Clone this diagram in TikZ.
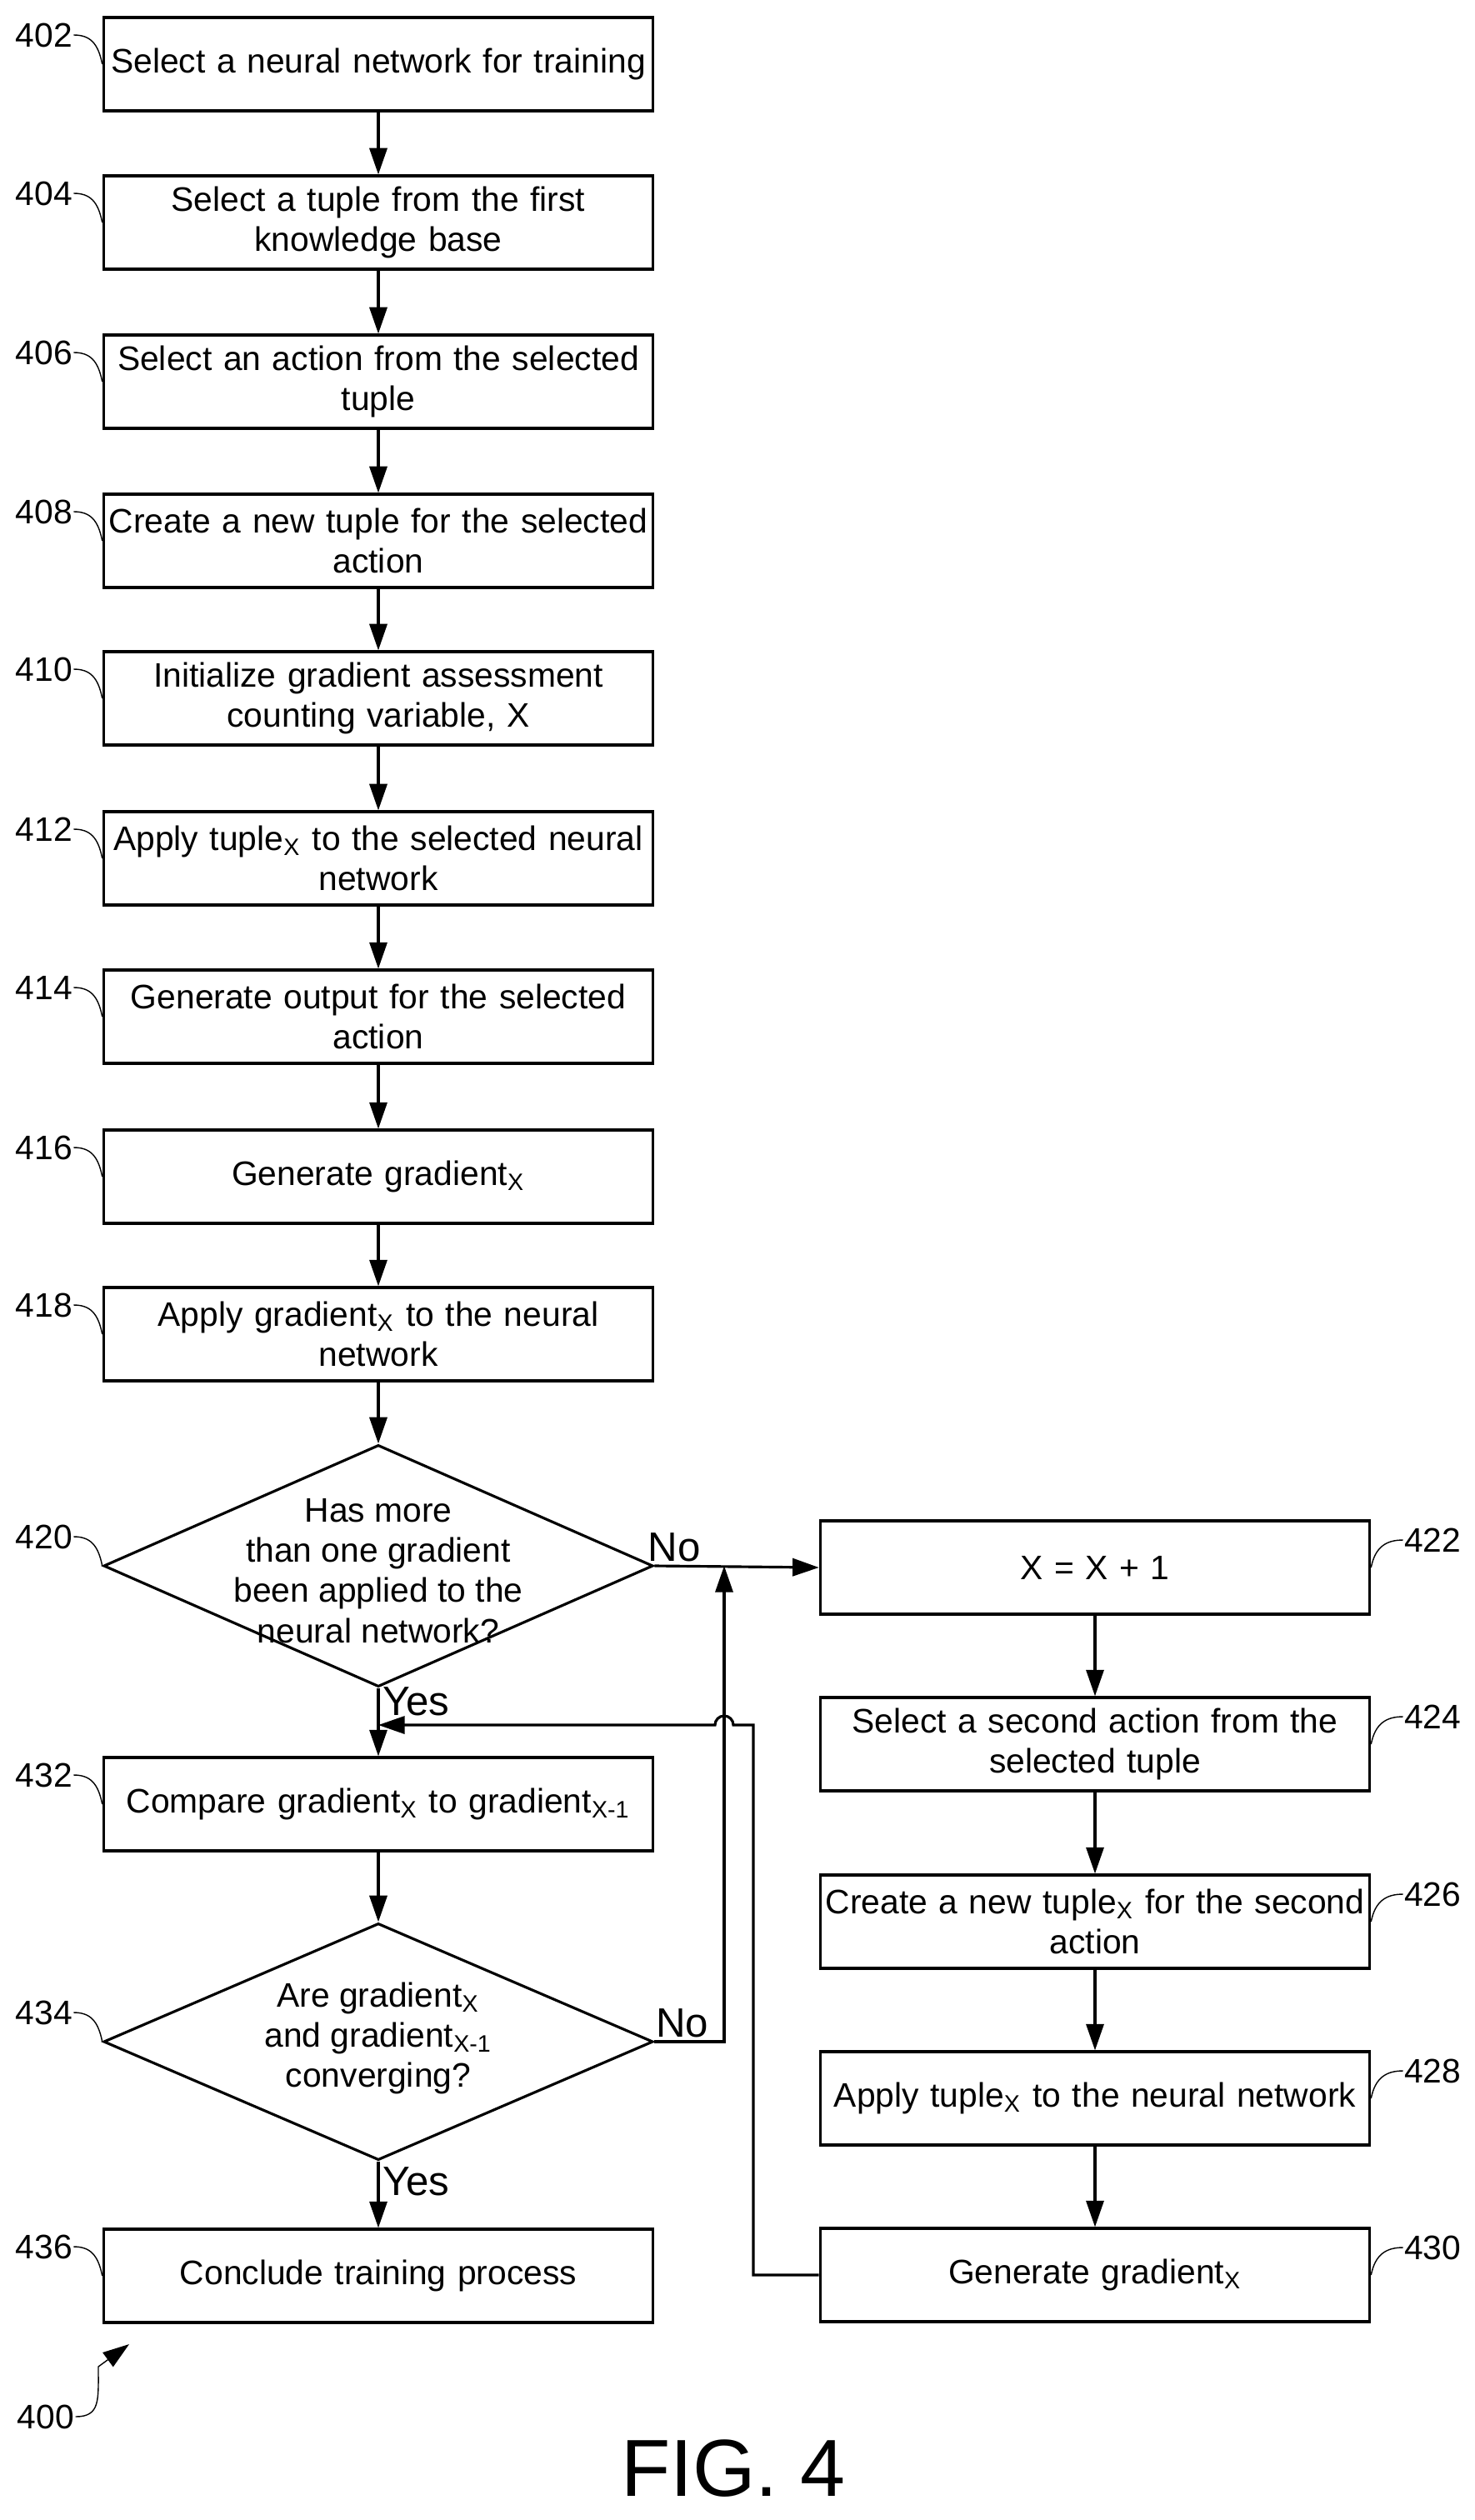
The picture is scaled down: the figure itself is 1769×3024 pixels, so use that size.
\documentclass[tikz,border=0pt]{standalone}
\usepackage{fontspec}
\setmainfont{Liberation Sans}
\usetikzlibrary{shapes.geometric, arrows.meta, calc}

\newcommand{\refleft}[2]{%
	\node[reftext] (l#1) at ($(#1.west)+(-70,-35)$) {#2};
	\draw[thin] (l#1.east) .. controls +(20,0) and +(-5,-25) .. (#1.west);
}
\newcommand{\refright}[2]{%
	\node[reftext] (l#1) at ($(#1.east)+(74,-33)$) {#2};
	\draw[thin] (#1.east) .. controls +(5,-25) and +(-20,0) .. (l#1.west);
}

\begin{document}
\begin{tikzpicture}[%
		x=0.01cm, y=-0.01cm,
		line width=0.9pt,
		font=\fontsize{11.6}{13.7}\selectfont,
		process/.style={
			rectangle,
			draw,
			minimum width=6.59cm,
			minimum height=1.12cm,
			text width=6.55cm,
			inner sep=0pt,
			align=center,
			execute at begin node={\hyphenpenalty=10000}
		},
		decision/.style={
			diamond,
			draw,
			inner sep=0pt,
			minimum width=6.59cm,
			minimum height=2.9cm
		},
		dtext/.style={
			align=center,
			inner sep=0pt
		},
		reftext/.style={
			inner sep=0pt
		},
		flow/.style={
			-{Triangle[length=9pt, width=6pt]}
		},
		branch/.style={
			font=\fontsize{14}{16}\selectfont,
			inner sep=1pt
		}]

		\useasboundingbox (0,0) rectangle (1769,3024);

		% LEFT COLUMN

		\node (s402) [process] at (454,77) {Select a neural network for training};
		\node (s404) [process] at (454,267) {Select a tuple from the first\\knowledge base};
		\node (s406) [process] at (454,458) {Select an action from the selected\\tuple};
		\node (s408) [process] at (454,649) {Create a new tuple for the selected\\action};
		\node (s410) [process] at (454,838) {Initialize gradient assessment\\counting variable, X};
		\node (s412) [process] at (454,1030) {Apply tuple\textsubscript{X} to the selected neural\\network};
		\node (s414) [process] at (454,1220) {Generate output for the selected\\action};
		\node (s416) [process] at (454,1412) {Generate gradient\textsubscript{X}};
		\node (s418) [process] at (454,1601) {Apply gradient\textsubscript{X} to the neural\\network};
		\node (s420) [decision] at (454,1879) {};
		\node (t420) [dtext] at (454,1885) {Has more\\than one gradient\\been applied to the\\neural network?};
		\node (s432) [process] at (454,2165) {Compare gradient\textsubscript{X} to gradient\textsubscript{X-1}};
		\node (s434) [decision, minimum height=2.84cm] at (454,2450) {};
		\node (t434) [dtext] at (454,2446) {Are gradient\textsubscript{X}\\and gradient\textsubscript{X-1}\\converging?};
		\node (s436) [process] at (454,2731) {Conclude training process};

		% RIGHT COLUMN

		\node (s422) [process] at (1314,1881) {X = X + 1};
		\node (s424) [process] at (1314,2093) {Select a second action from the\\selected tuple};
		\node (s426) [process] at (1314,2306) {Create a new tuple\textsubscript{X} for the second\\action};
		\node (s428) [process] at (1314,2518) {Apply tuple\textsubscript{X} to the neural network};
		\node (s430) [process] at (1314,2730) {Generate gradient\textsubscript{X}};

		\coordinate (noA) at (869,1879);
		\coordinate (noB) at (869,2450);
		\coordinate (backA) at (904,2730);
		\coordinate (backB) at (904,2070);
		\coordinate (backC) at (454,2070);

		% REFERENCE NUMBERS

		\refleft{s402}{402}
		\refleft{s404}{404}
		\refleft{s406}{406}
		\refleft{s408}{408}
		\refleft{s410}{410}
		\refleft{s412}{412}
		\refleft{s414}{414}
		\refleft{s416}{416}
		\refleft{s418}{418}
		\refleft{s420}{420}
		\refleft{s432}{432}
		\refleft{s434}{434}
		\refleft{s436}{436}
		\refright{s422}{422}
		\refright{s424}{424}
		\refright{s426}{426}
		\refright{s428}{428}
		\refright{s430}{430}

		\node (l400) [reftext] at (55,2900) {400};
		\coordinate (fig400) at (155,2813);
		\draw[flow, thin] (l400.east) .. controls +(30,0) and +(0,40) .. (118,2840) -- (fig400);

		\node (figname) [font=\fontsize{27.6}{30}\selectfont] at (880,2962) {FIG. 4};

		% FLOW LINES

		\draw[flow] (s402) -- (s404);
		\draw[flow] (s404) -- (s406);
		\draw[flow] (s406) -- (s408);
		\draw[flow] (s408) -- (s410);
		\draw[flow] (s410) -- (s412);
		\draw[flow] (s412) -- (s414);
		\draw[flow] (s414) -- (s416);
		\draw[flow] (s416) -- (s418);
		\draw[flow] (s418) -- (s420);
		\draw[flow] (s420) -- node[branch, pos=0.2, right] {Yes} (s432);
		\draw[flow] (s432) -- (s434);
		\draw[flow] (s434) -- node[branch, pos=0.3, right] {Yes} (s436);
		\draw[flow] (s420.east) -- node[branch, pos=0.12, above] {No} (s422.west);
		\draw[flow] (s422) -- (s424);
		\draw[flow] (s424) -- (s426);
		\draw[flow] (s426) -- (s428);
		\draw[flow] (s428) -- (s430);

		\draw[flow] (s434.east) -- node[branch, pos=0.4, above] {No} (noB) -- (noA);
		\draw[flow] (s430.west) -- (backA) -- (backB) -- (880,2070) arc[start angle=0, end angle=180, radius=0.11cm] -- (backC);
\end{tikzpicture}
\end{document}
